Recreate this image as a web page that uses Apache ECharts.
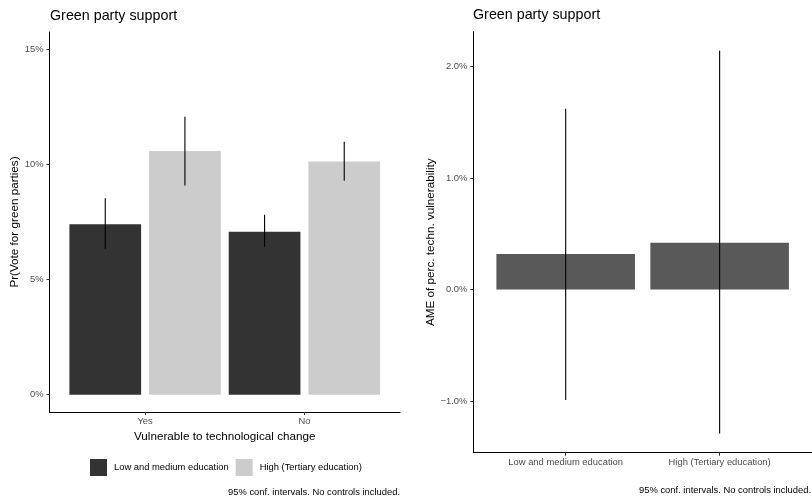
<!DOCTYPE html>
<html><head><meta charset="utf-8">
<script src="https://cdn.jsdelivr.net/npm/echarts@6/dist/echarts.min.js"></script>
<style>html,body{margin:0;padding:0;background:#fff}#c{width:812px;height:502px}</style>
</head><body><div id="c"></div>
<script>
// ---- data ----
const groups = ['Yes', 'No'];
const eduLevels = ['Low and medium education', 'High (Tertiary education)'];
const supportLow = [7.40, 7.08];
const supportLowLo = [6.32, 6.43];
const supportLowHi = [8.53, 7.81];
const supportHigh = [10.58, 10.13];
const supportHighLo = [9.08, 9.29];
const supportHighHi = [12.07, 10.98];
const ame = [0.32, 0.42];
const ameLo = [-0.99, -1.29];
const ameHi = [1.62, 2.14];
const leftTicks = [0, 5, 10, 15];
const rightTicks = [-1, 0, 1, 2];
const captionText = '95% conf. intervals. No controls included.';

// ---- layout constants ----
const FONT = '"Liberation Sans", Arial, Helvetica, sans-serif';
const DODGE = 0.25, BARW_DODGED = 0.45, BARW_SINGLE = 0.9;
const COL_LOW = '#333333', COL_HIGH = '#CCCCCC', COL_AME = '#595959';

function barRender(params, api) {
  const x = api.value(0), y = api.value(1), w = api.value(2);
  const p0 = api.coord([x - w / 2, y]);
  const p1 = api.coord([x + w / 2, 0]);
  const top = Math.min(p0[1], p1[1]), h = Math.abs(p1[1] - p0[1]);
  return { type: 'rect', shape: { x: p0[0], y: top, width: p1[0] - p0[0], height: h },
    style: { fill: api.visual('color') } };
}
function errRender(params, api) {
  const x = api.value(0), lo = api.value(1), hi = api.value(2);
  const a = api.coord([x, lo]), b = api.coord([x, hi]);
  return { type: 'line', shape: { x1: a[0], y1: a[1], x2: b[0], y2: b[1] },
    style: { stroke: '#000', lineWidth: 1.1 } };
}

const lowBars = groups.map((g, i) => [i + 1 - DODGE, supportLow[i], BARW_DODGED]);
const highBars = groups.map((g, i) => [i + 1 + DODGE, supportHigh[i], BARW_DODGED]);
const errLeft = groups.map((g, i) => [i + 1 - DODGE, supportLowLo[i], supportLowHi[i]])
  .concat(groups.map((g, i) => [i + 1 + DODGE, supportHighLo[i], supportHighHi[i]]));
const ameBars = eduLevels.map((e, i) => [i + 1, ame[i], BARW_SINGLE]);
const errRight = eduLevels.map((e, i) => [i + 1, ameLo[i], ameHi[i]]);

// ggplot-like expansion
const lMin = 0, lMax = 15, lExp = (lMax - lMin) * 0.05;
const rMin = Math.min(...ameLo), rMax = Math.max(...ameHi), rExp = (rMax - rMin) * 0.05;

const axisLineStyle = { show: true, onZero: false, lineStyle: { color: '#000', width: 1 } };
const tickStyle = { lineStyle: { color: '#333', width: 1 }, length: 3 };
const labelStyle = { color: '#4D4D4D', fontSize: 9.4, fontFamily: FONT };
const nameStyle = { color: '#000', fontSize: 11.7, fontFamily: FONT };

const chart = echarts.init(document.getElementById('c'), null, { renderer: 'canvas' });
chart.setOption({
  animation: false,
  backgroundColor: '#fff',
  textStyle: { fontFamily: FONT },
  title: [
    { text: 'Green party support', left: 50, top: 9, padding: 0,
      textStyle: { fontSize: 14.3, fontWeight: 'normal', color: '#000', fontFamily: FONT } },
    { text: 'Green party support', left: 473, top: 8.5, padding: 0,
      textStyle: { fontSize: 14.3, fontWeight: 'normal', color: '#000', fontFamily: FONT } },
    { text: captionText, right: 412, top: 488, padding: 0,
      textStyle: { fontSize: 9.4, fontWeight: 'normal', color: '#000', fontFamily: FONT } },
    { text: captionText, right: 1, top: 485.5, padding: 0,
      textStyle: { fontSize: 9.4, fontWeight: 'normal', color: '#000', fontFamily: FONT } }
  ],
  legend: {
    data: eduLevels, left: 90, top: 459, padding: 0, itemWidth: 17, itemHeight: 17, itemGap: 7,
    icon: 'rect', selectedMode: false,
    textStyle: { fontSize: 9.4, color: '#000', fontFamily: FONT, padding: [0, 0, 0, 2] }
  },
  grid: [
    { left: 49.5, top: 32, width: 350.5, height: 380 },
    { left: 473.3, top: 31.7, right: 0, height: 421 }
  ],
  xAxis: [
    { type: 'value', gridIndex: 0, min: 0.4, max: 2.6, axisLine: axisLineStyle,
      axisTick: Object.assign({ customValues: [1, 2] }, tickStyle),
      axisLabel: Object.assign({ customValues: [1, 2], margin: 5,
        formatter: v => groups[Math.round(v) - 1] || '' }, labelStyle),
      splitLine: { show: false },
      name: 'Vulnerable to technological change', nameLocation: 'middle', nameGap: 15,
      nameTextStyle: Object.assign({ verticalAlign: 'top' }, nameStyle) },
    { type: 'value', gridIndex: 1, min: 0.4, max: 2.6, axisLine: axisLineStyle,
      axisTick: Object.assign({ customValues: [1, 2] }, tickStyle),
      axisLabel: Object.assign({ customValues: [1, 2], margin: 5,
        formatter: v => eduLevels[Math.round(v) - 1] || '' }, labelStyle),
      splitLine: { show: false } }
  ],
  yAxis: [
    { type: 'value', gridIndex: 0, min: lMin - lExp, max: lMax + lExp, axisLine: axisLineStyle,
      axisTick: Object.assign({ customValues: leftTicks }, tickStyle),
      axisLabel: Object.assign({ customValues: leftTicks, margin: 6,
        formatter: v => Math.round(v) + '%' }, labelStyle),
      splitLine: { show: false },
      name: 'Pr(Vote for green parties)', nameLocation: 'middle', nameGap: 26,
      nameTextStyle: nameStyle },
    { type: 'value', gridIndex: 1, min: rMin - rExp, max: rMax + rExp, axisLine: axisLineStyle,
      axisTick: Object.assign({ customValues: rightTicks }, tickStyle),
      axisLabel: Object.assign({ customValues: rightTicks, margin: 6,
        formatter: v => (v < 0 ? '\u2212' : '') + Math.abs(v).toFixed(1) + '%' }, labelStyle),
      splitLine: { show: false },
      name: 'AME of perc. techn. vulnerability', nameLocation: 'middle', nameGap: 35,
      nameTextStyle: nameStyle }
  ],
  series: [
    { type: 'custom', name: eduLevels[0], xAxisIndex: 0, yAxisIndex: 0, data: lowBars,
      renderItem: barRender, itemStyle: { color: COL_LOW }, encode: { x: 0, y: 1 } },
    { type: 'custom', name: eduLevels[1], xAxisIndex: 0, yAxisIndex: 0, data: highBars,
      renderItem: barRender, itemStyle: { color: COL_HIGH }, encode: { x: 0, y: 1 } },
    { type: 'custom', name: 'errLeft', xAxisIndex: 0, yAxisIndex: 0, data: errLeft,
      renderItem: errRender, encode: { x: 0, y: [1, 2] }, z: 5 },
    { type: 'custom', name: 'ame', xAxisIndex: 1, yAxisIndex: 1, data: ameBars,
      renderItem: barRender, itemStyle: { color: COL_AME }, encode: { x: 0, y: 1 } },
    { type: 'custom', name: 'errRight', xAxisIndex: 1, yAxisIndex: 1, data: errRight,
      renderItem: errRender, encode: { x: 0, y: [1, 2] }, z: 5 }
  ]
});
</script>
</body></html>
